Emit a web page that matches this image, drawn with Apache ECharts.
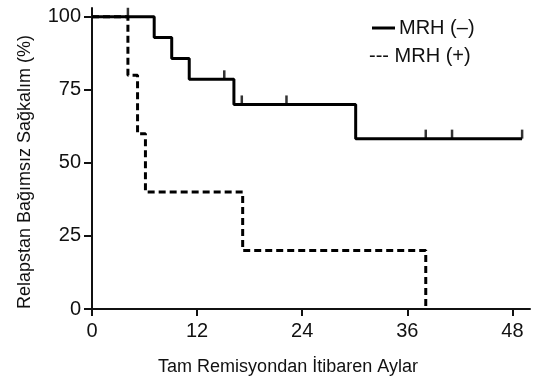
<!DOCTYPE html>
<html>
<head>
<meta charset="utf-8">
<script src="https://cdn.jsdelivr.net/npm/echarts@6/dist/echarts.min.js"></script>
<style>
html,body{margin:0;padding:0;background:#fff;}
#chart{width:535px;height:382px;}
</style>
</head>
<body>
<div id="chart"></div>
<script>
// Kaplan-Meier steps: [month, survival %]
var negSteps = [[0, 100], [7.1, 92.9], [9.1, 85.7], [11.1, 78.6], [16.2, 70.0], [30.1, 58.3], [49.1, 58.3]];
var posSteps = [[0, 100], [4.1, 80], [5.2, 60], [6.1, 40], [17.2, 20], [38.1, 0]];
// censored observations
var negCensor = [[15.1, 78.6], [17.1, 70.0], [22.2, 70.0], [38.1, 58.3], [41.1, 58.3], [49.1, 58.3]];
var posCensor = [[4.1, 100]];
var xTicks = [0, 12, 24, 36, 48];
var yTicks = [0, 25, 50, 75, 100];
var seriesNames = ['MRH (–)', 'MRH (+)'];
var xTitle = 'Tam Remisyondan İtibaren Aylar';
var yTitle = 'Relapstan Bağımsız Sağkalım (%)';

var chart = echarts.init(document.getElementById('chart'), null, {renderer: 'canvas'});
var FONT = 'Liberation Sans, Arial, sans-serif';
var INK = '#111';

chart.setOption({
  animation: false,
  backgroundColor: '#fff',
  grid: {left: 92, right: 5, top: 8, bottom: 73, containLabel: false},
  xAxis: {
    type: 'value', min: 0, max: 50, interval: 12,
    splitLine: {show: false},
    axisLine: {lineStyle: {color: INK, width: 2}},
    axisTick: {length: 7, lineStyle: {color: INK, width: 2}, customValues: xTicks},
    axisLabel: {color: INK, fontSize: 20, fontFamily: FONT, margin: 12, customValues: xTicks}
  },
  yAxis: {
    type: 'value', min: 0, max: 103, interval: 25,
    splitLine: {show: false},
    axisLine: {lineStyle: {color: INK, width: 2}},
    axisTick: {length: 8, lineStyle: {color: INK, width: 2}, customValues: yTicks},
    axisLabel: {color: INK, fontSize: 20, fontFamily: FONT, margin: 11, customValues: yTicks}
  },
  series: [
    {
      name: seriesNames[0], type: 'line', step: 'end', data: negSteps,
      symbol: 'none', lineStyle: {color: '#000', width: 3}, z: 3
    },
    {
      name: seriesNames[1], type: 'line', step: 'end', data: posSteps,
      symbol: 'none', lineStyle: {color: '#000', width: 3, type: [7, 4]}, z: 2
    },
    {
      type: 'scatter', data: negCensor, symbol: 'rect', symbolSize: [2.5, 9],
      symbolOffset: [0, -4.5], itemStyle: {color: '#000'}, z: 4
    },
    {
      type: 'scatter', data: posCensor, symbol: 'rect', symbolSize: [2.5, 9],
      symbolOffset: [0, -4.5], itemStyle: {color: '#000'}, z: 4
    }
  ],
  graphic: [
    {type: 'line', shape: {x1: 372, y1: 28, x2: 395, y2: 28}, style: {stroke: '#000', lineWidth: 3}},
    {type: 'text', x: 399, y: 28, style: {text: seriesNames[0], font: '20px ' + FONT, fill: INK, textVerticalAlign: 'middle', verticalAlign: 'middle'}},
    {type: 'text', x: 369, y: 56, style: {text: '--- ' + seriesNames[1], font: '20px ' + FONT, fill: INK, textVerticalAlign: 'middle', verticalAlign: 'middle'}},
    {type: 'text', x: 288, y: 367, style: {text: xTitle, font: '18px ' + FONT, fill: INK, align: 'center', textAlign: 'center', verticalAlign: 'middle', textVerticalAlign: 'middle'}},
    {type: 'text', x: 25, y: 172, rotation: Math.PI / 2, style: {text: yTitle, font: '18px ' + FONT, fill: INK, align: 'center', textAlign: 'center', verticalAlign: 'middle', textVerticalAlign: 'middle'}}
  ]
});
</script>
</body>
</html>
